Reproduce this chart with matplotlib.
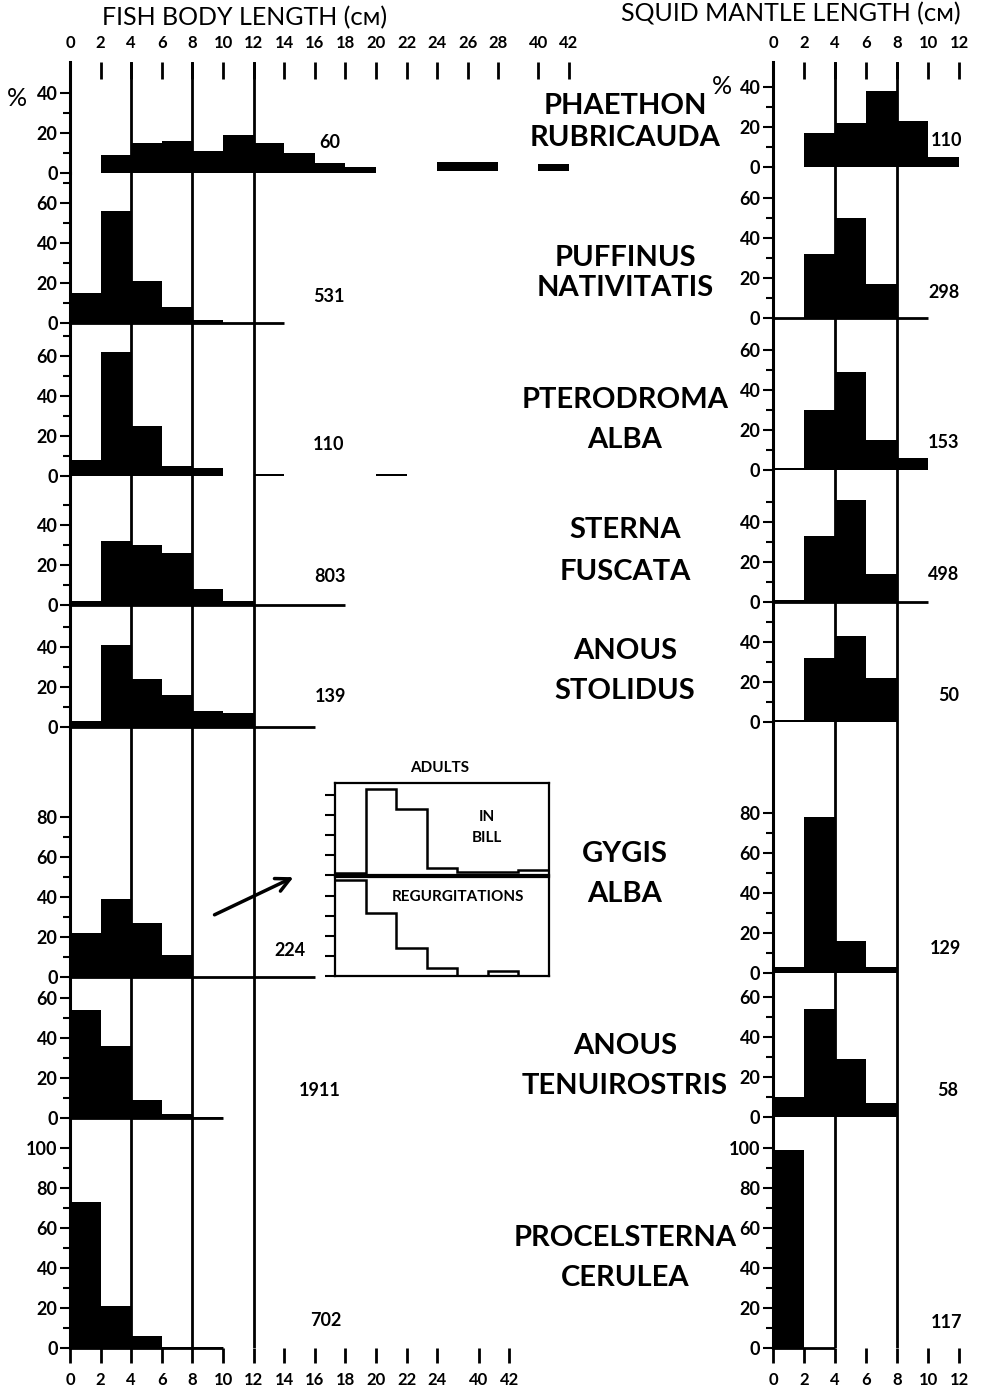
import matplotlib.pyplot as plt
from matplotlib.patches import FancyArrowPatch

plt.rcParams['font.family'] = ['Lato', 'DejaVu Sans']

# Data (% of items per 2 cm size class, bins start at 0)
species_line1 = ["PHAETHON", "PUFFINUS", "PTERODROMA", "STERNA", "ANOUS",
                 "GYGIS", "ANOUS", "PROCELSTERNA"]
species_line2 = ["RUBRICAUDA", "NATIVITATIS", "ALBA", "FUSCATA", "STOLIDUS",
                 "ALBA", "TENUIROSTRIS", "CERULEA"]

fish_pct = [
    [0, 9, 15, 16, 11, 19, 15, 10, 5, 3],
    [15, 56, 21, 8, 1.5],
    [8, 62, 25, 5, 4, 0, 0.8, 0, 0, 0, 0.8],
    [2, 32, 30, 26, 8, 2],
    [3, 41, 24, 16, 8, 7],
    [22, 39, 27, 11],
    [54, 36, 9, 2, 0.7],
    [73, 21, 6, 0.5, 0.5],
]
fish_n = ["60", "531", "110", "803", "139", "224", "1911", "702"]
fish_base_end = [0, 14, 0, 18, 16, 16, 10, 10]

# Phaethon fish: far classes (24-28 and 40-42 cm), drawn as floating bars
phaethon_far_left = [24, 26, 40]
phaethon_far_pct = [4.5, 4.5, 3.5]

squid_pct = [
    [0, 17, 22, 38, 23, 5],
    [0, 32, 50, 17],
    [1, 30, 49, 15, 6],
    [1, 33, 51, 14],
    [1, 32, 43, 22],
    [3, 78, 16, 3],
    [10, 54, 29, 7],
    [99],
]
squid_n = ["110", "298", "153", "498", "50", "129", "58", "117"]
squid_base_end = [0, 10, 0, 10, 0, 0, 0, 4]

# Gygis alba adults inset (step outlines)
inbill_pct = [1, 43, 33, 3.5, 1.5, 1.5, 2.5]
regurg_pct = [48, 31.5, 14, 4, 0, 2.5, 0]

fish_top_labels = ["0", "2", "4", "6", "8", "10", "12", "14", "16", "18", "20",
                   "22", "24", "26", "28", "40", "42"]
fish_bot_labels = ["0", "2", "4", "6", "8", "10", "12", "14", "16", "18", "20",
                   "22", "24", "40", "42"]
squid_labels = ["0", "2", "4", "6", "8", "10", "12"]

# Layout (pixels)
W, H = 983, 1391
fish_zero = [173, 323, 476, 605, 727, 977, 1118, 1348]
squid_zero = [167, 318, 470, 602, 722, 973, 1117, 1348]
fish_top = [62] + fish_zero[:-1]
squid_top = [62] + squid_zero[:-1]
fish_tmax = [40, 70, 70, 50, 50, 80, 60, 100]
squid_tmax = [40, 60, 60, 50, 50, 80, 60, 100]
name_y = [(106, 138), (258, 288), (400, 440), (530, 572), (651, 691),
          (854, 894), (1046, 1086), (1238, 1278)]
fish_n_xy = [(330, 143), (329, 296), (329, 445), (330, 577), (330, 697),
             (290, 950), (320, 1091), (326, 1321)]
squid_n_xy = [(947, 140), (944, 292), (944, 443), (944, 575), (949, 695),
              (945, 948), (948, 1090), (947, 1322)]

FX0, FPX, FXMAX = 70, 15.3, 33.0
SX0, SPX, SXMAX = 773, 15.5, 12.6


def brk(x):
    # broken fish axis: 40 cm sits just after 28 cm
    return x if x <= 28 else x - 40 + 30.6


fig = plt.figure(figsize=(W / 100, H / 100), dpi=100)


def px_axes(x0, y0, x1, y1):
    return fig.add_axes([x0 / W, 1 - y1 / H, (x1 - x0) / W, (y1 - y0) / H])


def ftext(x, y, s, **kw):
    fig.text(x / W, 1 - y / H, s, ha='center', va='center', **kw)


def overlay(x0, pxcm, xmax, lines, top_pos, top_lab, bot_pos, bot_lab):
    ov = px_axes(x0, 62, x0 + xmax * pxcm, 1348)
    ov.set_xlim(0, xmax)
    ov.set_ylim(0, 1)
    ov.patch.set_alpha(0)
    for s in ov.spines.values():
        s.set_visible(False)
    ov.set_yticks([])
    for g in lines:
        ov.axvline(g, color='black', lw=2)
    ov.set_xticks(bot_pos, bot_lab)
    ov.tick_params(axis='x', direction='out', length=11, width=2, pad=6,
                   labelsize=12)
    for t in ov.get_xticklabels():
        t.set_fontweight('bold')
    sec = ov.secondary_xaxis('top')
    sec.spines['top'].set_visible(False)
    sec.set_xticks(top_pos, top_lab)
    sec.tick_params(axis='x', direction='in', length=12, width=2, pad=8,
                    labelsize=12)
    for t in sec.get_xticklabels():
        t.set_fontweight('bold')


fish_top_pos = list(range(0, 29, 2)) + [brk(40), brk(42)]
fish_bot_pos = list(range(0, 25, 2)) + [26.7, 28.7]
overlay(FX0, FPX, FXMAX, [4, 8, 12], fish_top_pos, fish_top_labels,
        fish_bot_pos, fish_bot_labels)
overlay(SX0, SPX, SXMAX, [4, 8], list(range(0, 13, 2)), squid_labels,
        list(range(0, 13, 2)), squid_labels)


def panel(x0, pxcm, xmax, top, zero, tmax, pct, base_end):
    ax = px_axes(x0, top, x0 + xmax * pxcm, zero)
    ax.set_xlim(0, xmax)
    ax.set_ylim(0, (zero - top) / 2)
    ax.patch.set_alpha(0)
    for k in ['top', 'right', 'bottom']:
        ax.spines[k].set_visible(False)
    ax.spines['left'].set_linewidth(2.2)
    ax.set_xticks([])
    ax.set_yticks(range(0, tmax + 1, 20))
    ax.set_yticks(range(10, tmax + 1, 20), minor=True)
    ax.tick_params(axis='y', which='major', length=7, width=1.5, labelsize=13,
                   pad=2)
    ax.tick_params(axis='y', which='minor', length=5, width=1.5)
    for t in ax.get_yticklabels():
        t.set_fontweight('bold')
    lefts = [2 * i for i in range(len(pct))]
    ax.bar(lefts, pct, width=2, align='edge', color='black', lw=0)
    if base_end:
        ax.plot([0, base_end], [0, 0], color='black', lw=2,
                solid_capstyle='butt', clip_on=False)
    return ax


for i in range(8):
    fa = panel(FX0, FPX, FXMAX, fish_top[i], fish_zero[i], fish_tmax[i],
               fish_pct[i], fish_base_end[i])
    if i == 0:
        fa.bar([brk(v) for v in phaethon_far_left], phaethon_far_pct,
               width=2, bottom=1.2, align='edge', color='black', lw=0)
    panel(SX0, SPX, SXMAX, squid_top[i], squid_zero[i], squid_tmax[i],
          squid_pct[i], squid_base_end[i])
    ftext(625, name_y[i][0], species_line1[i], fontsize=21, fontweight='bold')
    ftext(625, name_y[i][1], species_line2[i], fontsize=21, fontweight='bold')
    ftext(*fish_n_xy[i], fish_n[i], fontsize=13, fontweight='bold')
    ftext(*squid_n_xy[i], squid_n[i], fontsize=13, fontweight='bold')

# Inset: Gygis alba adults
edges = [2 * i for i in range(len(inbill_pct) + 1)]
for (y0, y1, vals, ymax) in [(783, 875, inbill_pct, 46),
                             (877, 976, regurg_pct, 49.5)]:
    ia = px_axes(335, y0, 549, y1)
    ia.set_xlim(0, 14)
    ia.set_ylim(0, ymax)
    ia.stairs(vals, edges, baseline=None, color='black', lw=1.8)
    for s in ia.spines.values():
        s.set_linewidth(1.6)
    ia.set_xticks([])
    ia.set_yticks(range(0, 41, 10), [''] * 5)
    ia.tick_params(axis='y', direction='out', length=7, width=1.5)

ftext(440, 768, "ADULTS", fontsize=11, fontweight='bold')
ftext(487, 817, "IN", fontsize=11, fontweight='bold')
ftext(487, 838, "BILL", fontsize=11, fontweight='bold')
ftext(458, 897, "REGURGITATIONS", fontsize=11, fontweight='bold')

fig.add_artist(FancyArrowPatch((212 / W, 1 - 916 / H), (296 / W, 1 - 876 / H),
                               transform=fig.transFigure, arrowstyle='->',
                               mutation_scale=25, lw=2.5, color='black'))

ftext(245, 18, "FISH BODY LENGTH (ᴄᴍ)", fontsize=18)
ftext(791, 14, "SQUID MANTLE LENGTH (ᴄᴍ)", fontsize=18)
ftext(17, 98, "%", fontsize=18)
ftext(722, 86, "%", fontsize=18)

fig.savefig("out.png", dpi=100)
